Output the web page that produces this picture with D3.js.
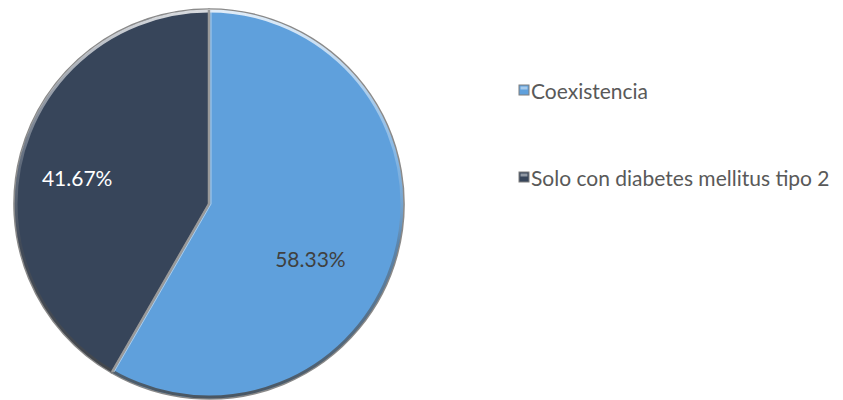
<!DOCTYPE html>
<html>
<head>
<meta charset="utf-8">
<script src="https://cdn.jsdelivr.net/npm/d3@7/dist/d3.min.js"></script>
<style>
  html, body { margin: 0; padding: 0; background: #fff; }
  svg { display: block; }
</style>
</head>
<body>
<svg id="chart" width="843" height="400"></svg>
<script>
// Series data
const categories = ["Coexistencia", "Solo con diabetes mellitus tipo 2"];
const values = [58.33, 41.67];
const valueLabels = ["58.33%", "41.67%"];
const colors = ["#5fa0dc", "#37455a"];
const labelColors = ["#404040", "#ffffff"];

const svg = d3.select("#chart");
const cx = 209, cy = 204, R = 195;
const FONT = "Lato, 'Open Sans', sans-serif";

const defs = svg.append("defs");

// Soft bevel for each slice: light rim at the top, darker rim at the bottom
const rim = defs.append("linearGradient")
  .attr("id", "rim").attr("x1", 0).attr("y1", 0).attr("x2", 0).attr("y2", 1);
rim.append("stop").attr("offset", "0%").attr("stop-color", "#ffffff").attr("stop-opacity", 0.8);
rim.append("stop").attr("offset", "40%").attr("stop-color", "#ffffff").attr("stop-opacity", 0.2);
rim.append("stop").attr("offset", "60%").attr("stop-color", "#555").attr("stop-opacity", 0.35);
rim.append("stop").attr("offset", "100%").attr("stop-color", "#444").attr("stop-opacity", 0.8);

const pie = d3.pie().sort(null).value(d => d)(values);
const arc = d3.arc().innerRadius(0).outerRadius(R);

const g = svg.append("g").attr("transform", `translate(${cx},${cy})`);

// Slices
g.selectAll("path.slice")
  .data(pie)
  .join("path")
  .attr("class", "slice")
  .attr("d", arc)
  .attr("fill", (d, i) => colors[i])
  .attr("stroke", "#8a8a8a")
  .attr("stroke-width", 1.6)
  .attr("stroke-linejoin", "round");

// Bevel rim along the outer edge
g.append("circle")
  .attr("r", R - 2)
  .attr("fill", "none")
  .attr("stroke", "url(#rim)")
  .attr("stroke-width", 3);

// Raised edge along the radial separators
g.selectAll("line.sep")
  .data(pie)
  .join("line")
  .attr("class", "sep")
  .attr("x1", 0).attr("y1", 0)
  .attr("x2", d => (R - 1) * Math.sin(d.startAngle))
  .attr("y2", d => -(R - 1) * Math.cos(d.startAngle))
  .attr("stroke", "#9a9a9a")
  .attr("stroke-width", 2.5);
g.selectAll("line.sep2")
  .data(pie)
  .join("line")
  .attr("class", "sep2")
  .attr("x1", 2).attr("y1", 0)
  .attr("x2", d => (R - 1) * Math.sin(d.startAngle) + 2)
  .attr("y2", d => -(R - 1) * Math.cos(d.startAngle))
  .attr("stroke", "#d8e6f3")
  .attr("stroke-width", 0.8)
  .attr("opacity", 0.8);

// Data labels placed inside each slice (radius fraction, angular offset)
const labelPos = [
  { r: 0.59, da: 0.23 },
  { r: 0.69, da: -0.06 }
];
g.selectAll("text.val")
  .data(pie)
  .join("text")
  .attr("class", "val")
  .attr("x", (d, i) => {
    const a = (d.startAngle + d.endAngle) / 2 + labelPos[i].da;
    return R * labelPos[i].r * Math.sin(a);
  })
  .attr("y", (d, i) => {
    const a = (d.startAngle + d.endAngle) / 2 + labelPos[i].da;
    return -R * labelPos[i].r * Math.cos(a);
  })
  .attr("text-anchor", "middle")
  .attr("dominant-baseline", "central")
  .attr("font-family", FONT)
  .attr("font-size", 21)
  .attr("fill", (d, i) => labelColors[i])
  .text((d, i) => valueLabels[i]);

// Legend
const legend = svg.append("g").attr("transform", "translate(519,0)");
const legendY = [90, 177];
const items = legend.selectAll("g.item")
  .data(categories)
  .join("g")
  .attr("class", "item")
  .attr("transform", (d, i) => `translate(0,${legendY[i]})`);
items.append("rect")
  .attr("x", 0).attr("y", -5)
  .attr("width", 10).attr("height", 10)
  .attr("fill", (d, i) => colors[i])
  .attr("stroke", "#7f7f7f")
  .attr("stroke-width", 1);
items.append("rect")
  .attr("x", 1.5).attr("y", -3.5)
  .attr("width", 7).attr("height", 3)
  .attr("fill", "#ffffff").attr("opacity", 0.45);
items.append("text")
  .attr("x", 12).attr("y", 0)
  .attr("dominant-baseline", "central")
  .attr("font-family", FONT)
  .attr("font-size", 21)
  .attr("fill", "#595959")
  .text(d => d);
</script>
</body>
</html>
